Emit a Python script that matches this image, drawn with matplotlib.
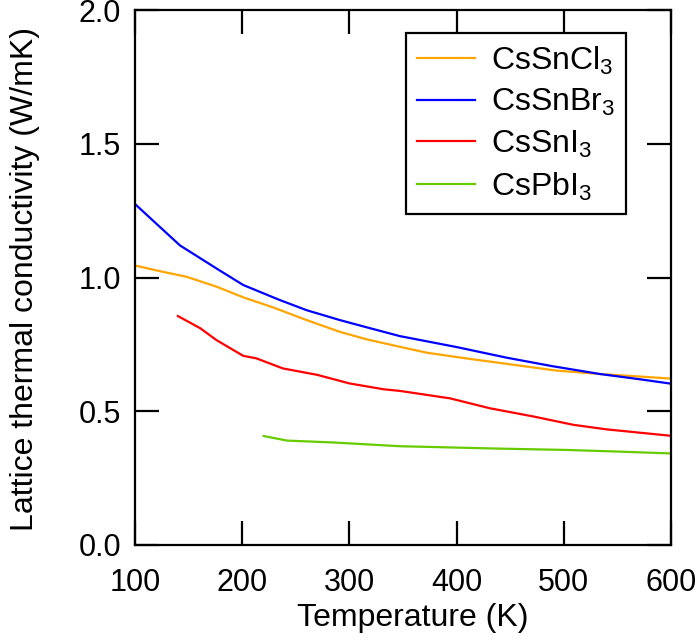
import numpy as np
import matplotlib.pyplot as plt

plt.rcParams['font.family'] = ['Liberation Sans', 'DejaVu Sans']
plt.rcParams['mathtext.fontset'] = 'custom'
plt.rcParams['mathtext.rm'] = 'Liberation Sans'

# CsSnCl3
T_cl = [100, 123, 148, 176, 201, 229, 260, 291, 316, 347, 372, 410, 447, 493, 534, 570, 600]
k_cl = [1.045, 1.024, 1.003, 0.966, 0.926, 0.888, 0.841, 0.797, 0.769, 0.741, 0.719, 0.697, 0.677, 0.652, 0.639, 0.630, 0.622]

# CsSnBr3
T_br = [100, 123, 142, 176, 201, 235, 260, 291, 316, 347, 400, 447, 490, 534, 570, 600]
k_br = [1.275, 1.19, 1.12, 1.034, 0.972, 0.916, 0.878, 0.841, 0.814, 0.781, 0.74, 0.70, 0.668, 0.639, 0.620, 0.603]

# CsSnI3
T_i = [140, 161, 176, 201, 213, 238, 270, 300, 332, 347, 394, 431, 472, 509, 540, 570, 600]
k_i = [0.856, 0.81, 0.766, 0.707, 0.698, 0.66, 0.636, 0.604, 0.582, 0.576, 0.548, 0.511, 0.480, 0.449, 0.432, 0.420, 0.408]

# CsPbI3
T_pb = [220, 242, 285, 347, 440, 503, 550, 600]
k_pb = [0.407, 0.390, 0.383, 0.369, 0.360, 0.355, 0.349, 0.342]

fig = plt.figure(figsize=(6.96, 6.41), dpi=100)
ax = fig.add_axes([0.194, 0.150, 0.770, 0.834])

ax.plot(T_cl, k_cl, color='#FFA500', lw=1.6, label='CsSnCl$_3$')
ax.plot(T_br, k_br, color='#0000FF', lw=1.6, label='CsSnBr$_3$')
ax.plot(T_i, k_i, color='#FF0000', lw=1.6, label='CsSnI$_3$')
ax.plot(T_pb, k_pb, color='#66CC00', lw=1.6, label='CsPbI$_3$')

ax.set_xlim(100, 600)
ax.set_ylim(0, 2.0)
ax.set_xticks([100, 200, 300, 400, 500, 600])
ax.set_yticks([0.0, 0.5, 1.0, 1.5, 2.0])
ax.set_yticklabels(['0.0', '0.5', '1.0', '1.5', '2.0'])

for s in ax.spines.values():
    s.set_linewidth(1.6)
ax.tick_params(direction='in', length=17, width=1.6, top=True, right=True,
               labelsize=22)
ax.tick_params(axis='x', pad=16.5)
ax.tick_params(axis='y', pad=10)

ax.set_xlabel('Temperature (K)', fontsize=23)
ax.set_ylabel('Lattice thermal conductivity (W/mK)', fontsize=23)
ax.xaxis.set_label_coords(0.518, -0.108)
ax.yaxis.set_label_coords(-0.177, 0.498)

leg = ax.legend(loc='upper right', bbox_to_anchor=(0.916, 0.957), fontsize=23,
                fancybox=False, edgecolor='black', framealpha=1,
                handlelength=1.8, handletextpad=0.5, borderpad=0.35,
                labelspacing=0.32, borderaxespad=0)
leg.get_frame().set_linewidth(1.6)

fig.savefig('out.png', dpi=100)
